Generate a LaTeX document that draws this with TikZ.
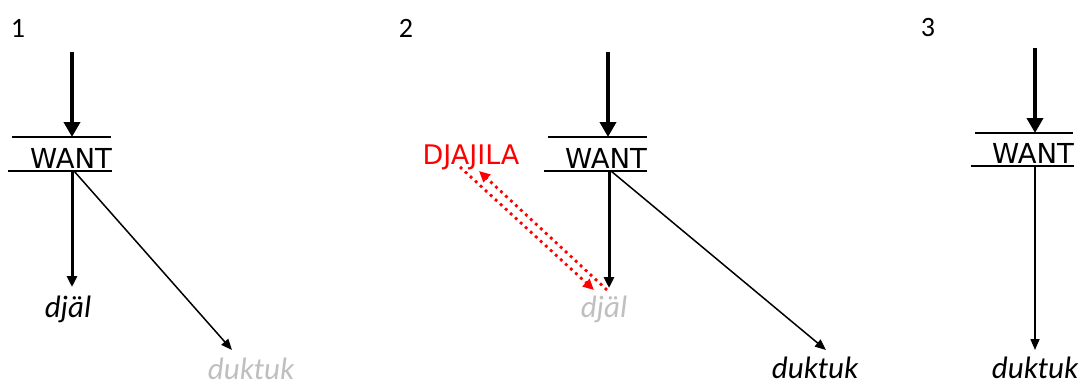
\documentclass[tikz,border=0pt]{standalone}
\usepackage{fontspec}
\setmainfont{Carlito}
\newfontfamily\dejavu{DejaVu Sans}
\usetikzlibrary{arrows.meta}
\begin{document}
\begin{tikzpicture}[x=1pt,y=-1pt,
  num/.style={font=\fontsize{28}{32}\selectfont, inner sep=0pt},
  want/.style={font=\dejavu\fontsize{27.5}{32}\selectfont, inner sep=0pt},
  word/.style={font=\itshape\fontsize{31}{36}\selectfont, inner sep=0pt},
  bar/.style={line width=1.5pt},
  heavy/.style={line width=4.5pt, -{Triangle[width=16pt,length=15pt]}},
  medium/.style={line width=3pt, -{Triangle[width=10pt,length=11pt]}},
  light/.style={line width=1.5pt, -{Triangle[width=9pt,length=11pt]}},
  reddot/.style={red, line width=2.8pt, dash pattern=on 2.8pt off 4pt, -{Triangle[width=10pt,length=11pt]}},
  faded/.style={text=black!25}]
\useasboundingbox (0,0) rectangle (1084,386);

% ---------- panel 1 ----------
\node[num] (n1) at (18,28) {1};
\node[want] (w1) at (71,158) {WANT};
\draw[bar] (12,137) -- (111,137);
\draw[bar] (8,171) -- (112,171);
\coordinate (s1) at (72,52);
\coordinate (t1) at (72,137);
\coordinate (c1) at (72,171);
\node[word] (d1) at (68,309) {djäl};
\node[word,faded] (k1) at (251,369) {duktuk};
\coordinate (e1a) at (72,287);
\coordinate (e1b) at (232,350);
\draw[heavy] (s1) -- (t1);
\draw[medium] (c1) -- (e1a);
\draw[light] ([xshift=2pt]c1) -- (e1b);

% ---------- panel 2 ----------
\node[num] (n2) at (406,28) {2};
\node[want] (w2) at (606,158) {WANT};
\draw[bar] (548,137) -- (647,137);
\draw[bar] (544,171) -- (647,171);
\coordinate (s2) at (608,52);
\coordinate (t2) at (608,137);
\coordinate (c2) at (609,171);
\node[word,faded] (d2) at (604,309) {djäl};
\node[word] (k2) at (815,368) {duktuk};
\coordinate (e2a) at (609,288);
\coordinate (e2b) at (826,350);
\draw[heavy] (s2) -- (t2);
\draw[medium] (c2) -- (e2a);
\draw[light] ([xshift=2pt]c2) -- (e2b);
\node[font=\dejavu\fontsize{27}{32}\selectfont, inner sep=0pt, text=red] (dj) at (471,157) {DJAJILA};
\coordinate (ra1) at (460,167);
\coordinate (ra2) at (594,290);
\coordinate (rb1) at (607,290);
\coordinate (rb2) at (479,171);
\draw[reddot] (ra1) -- (ra2);
\draw[reddot] (rb1) -- (rb2);

% ---------- panel 3 ----------
\node[num] (n3) at (928,28) {3};
\node[want] (w3) at (1033,153) {WANT};
\draw[bar] (975,133) -- (1073,133);
\draw[bar] (971,166) -- (1074,166);
\coordinate (s3) at (1035,48);
\coordinate (t3) at (1035,133);
\coordinate (c3) at (1035,166);
\node[word] (k3) at (1035,368) {duktuk};
\coordinate (e3) at (1035,350);
\draw[heavy] (s3) -- (t3);
\draw[light] (c3) -- (e3);
\end{tikzpicture}
\end{document}
